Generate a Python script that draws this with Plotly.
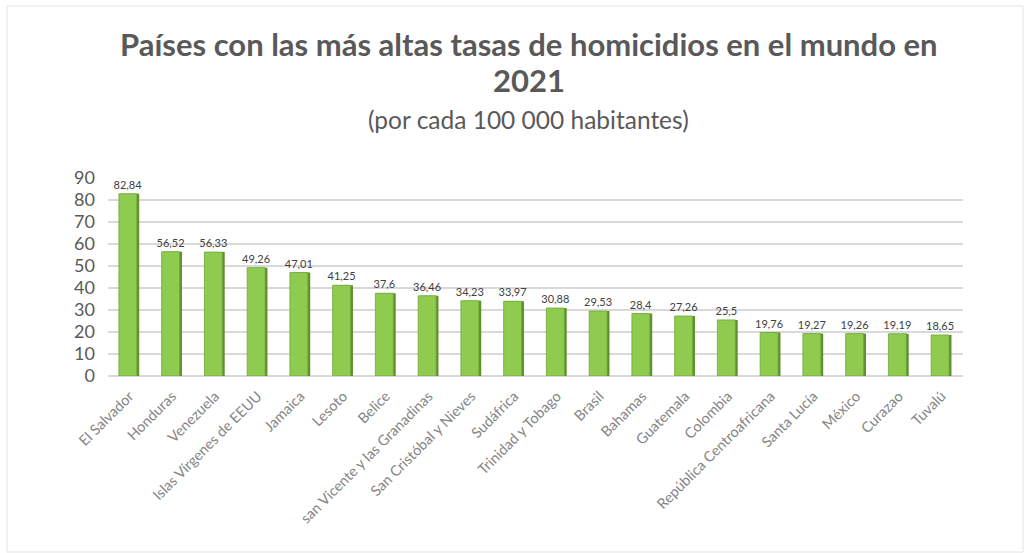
import plotly.graph_objects as go

paises = ["El Salvador", "Honduras", "Venezuela", "Islas Vírgenes de EEUU", "Jamaica",
          "Lesoto", "Belice", "san Vicente y las Granadinas", "San Cristóbal y Nieves",
          "Sudáfrica", "Trinidad y Tobago", "Brasil", "Bahamas", "Guatemala", "Colombia",
          "República Centroafricana", "Santa Lucía", "México", "Curazao", "Tuvalú"]
tasas = [82.84, 56.52, 56.33, 49.26, 47.01, 41.25, 37.6, 36.46, 34.23, 33.97,
         30.88, 29.53, 28.4, 27.26, 25.5, 19.76, 19.27, 19.26, 19.19, 18.65]
etiquetas = ["82,84", "56,52", "56,33", "49,26", "47,01", "41,25", "37,6", "36,46", "34,23", "33,97",
             "30,88", "29,53", "28,4", "27,26", "25,5", "19,76", "19,27", "19,26", "19,19", "18,65"]
y_ticks = [0, 10, 20, 30, 40, 50, 60, 70, 80, 90]

FONT = "Lato"
GREY = "#595959"

fig = go.Figure()
# side face (3D look)
fig.add_trace(go.Bar(
    x=paises, y=tasas, width=0.42, offset=-0.19,
    marker=dict(color="#5E8F2C", line=dict(width=0)),
    hoverinfo="skip", showlegend=False,
))
# front face
fig.add_trace(go.Bar(
    x=paises, y=tasas, width=0.42, offset=-0.245,
    marker=dict(color="#8FCB4F", line=dict(color="#6FA73A", width=0.8)),
    text=etiquetas, textposition="outside", cliponaxis=False, constraintext="none",
    textfont=dict(family=FONT, size=11, color="#404040"),
    outsidetextfont=dict(family=FONT, size=11, color="#404040"),
    showlegend=False,
))

fig.update_layout(
    width=1033, height=553,
    margin=dict(l=108, r=70, t=178, b=177),
    paper_bgcolor="white", plot_bgcolor="white",
    barmode="overlay",
    xaxis=dict(
        tickangle=-45, tickfont=dict(family=FONT, size=14.5, color="#858585"),
        showgrid=False, showline=False, ticks="", ticklabelstandoff=8,
    ),
    yaxis=dict(
        range=[0, 90], tickvals=y_ticks,
        tickfont=dict(family=FONT, size=18, color=GREY),
        showgrid=True, gridcolor="#D9D9D9", gridwidth=1.5,
        zeroline=True, zerolinecolor="#D9D9D9", zerolinewidth=1.5,
        showline=False, ticks="", ticklabelstandoff=12,
    ),
    annotations=[
        dict(text="<b>Países con las más altas tasas de homicidios en el mundo en</b>",
             xref="paper", yref="paper", x=(529 - 108) / 855, y=(376 - 44) / 198,
             xanchor="center", yanchor="middle",
             showarrow=False, font=dict(family=FONT, size=31, color=GREY)),
        dict(text="<b>2021</b>",
             xref="paper", yref="paper", x=(529 - 108) / 855, y=(376 - 80) / 198,
             xanchor="center", yanchor="middle",
             showarrow=False, font=dict(family=FONT, size=31, color=GREY)),
        dict(text="(por cada 100 000 habitantes)",
             xref="paper", yref="paper", x=(528 - 108) / 855, y=(376 - 120) / 198,
             xanchor="center", yanchor="middle",
             showarrow=False, font=dict(family=FONT, size=24.5, color=GREY)),
    ],
    shapes=[
        dict(type="rect", xref="paper", yref="paper",
             x0=(7 - 108) / 855, x1=(1023 - 108) / 855,
             y0=(376 - 552) / 198, y1=(376 - 6) / 198,
             line=dict(color="#E3E3E3", width=1), fillcolor="rgba(0,0,0,0)", layer="below"),
    ],
)

fig.write_html("out.html")
